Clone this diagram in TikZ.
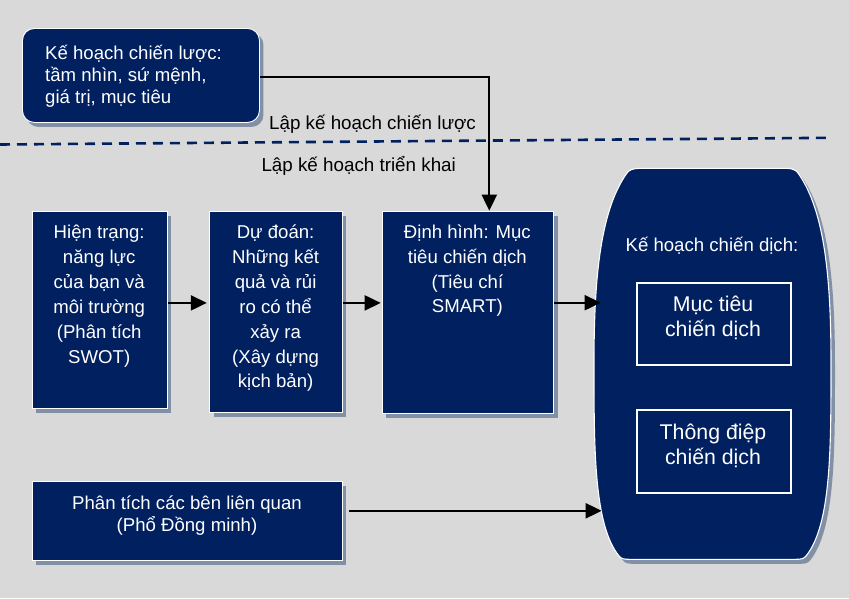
\documentclass[tikz,border=0pt]{standalone}
\usepackage{fontspec}
\setmainfont{Liberation Sans}
\usetikzlibrary{arrows.meta,shadows}
\definecolor{navy}{HTML}{002060}
\definecolor{bggray}{HTML}{D9D9D9}
\definecolor{shade}{HTML}{8290A6}
% invisible prop fixing the height of the first line of a text block
\newcommand\firstrow{\rule{0pt}{20pt}}

\begin{document}
\begin{tikzpicture}[x=1pt,y=-1pt,
  shadowed/.style={drop shadow={shadow xshift=4pt,shadow yshift=-4.5pt,fill=shade,opacity=1}},
  block/.style={draw=white,line width=0.9pt,fill=navy,shadowed,inner sep=0pt,anchor=north west},
  innerbox/.style={draw=white,line width=1.8pt,fill=navy,inner sep=0pt,anchor=north west},
  txt/.style={inner sep=0pt,anchor=north,align=center,text=white,font=\fontsize{18.6pt}{24.9pt}\selectfont},
  bigtxt/.style={inner sep=0pt,anchor=north,align=center,text=white,font=\fontsize{21.3pt}{24.6pt}\selectfont},
  lbl/.style={inner sep=0pt,anchor=base,font=\fontsize{18.8pt}{22pt}\selectfont},
  arr/.style={line width=2pt,-{Triangle[length=16pt,width=15pt]}}]

% canvas
\useasboundingbox (0,0) rectangle (849,598);
\fill[bggray] (0,0) rectangle (849,598);

% boundary between strategic and operational planning
\coordinate (dl) at (0,144.5);
\coordinate (dr) at (832,137.8);
\draw[navy,line width=2.6pt,dash pattern=on 10pt off 7pt] (dl) -- (dr);
\node[lbl] (lstrat) at (372.5,129.3) {Lập kế hoạch chiến lược};
\node[lbl] (lops) at (358.7,171.7) {Lập kế hoạch triển khai};

% strategic plan
\node[block,rounded corners=12pt,minimum width=237pt,minimum height=94pt] (tb) at (22,28) {};
\node[inner sep=0pt,anchor=north west,align=left,text=white,
      font=\fontsize{18.6pt}{22pt}\selectfont] (tbt) at (45,39)
  {\firstrow Kế hoạch chiến lược:\\tầm nhìn, sứ mệnh,\\giá trị, mục tiêu};

% analysis chain
\node[block,minimum width=135pt,minimum height=197.6pt] (b1) at (31.7,210.7) {};
\node[txt] (b1t) at (99.2,218.3)
  {\firstrow Hiện trạng:\\năng lực\\của bạn và\\môi trường\\(Phân tích\\SWOT)};

\node[block,minimum width=132.4pt,minimum height=201.6pt] (b2) at (209.3,210.7) {};
\node[txt] (b2t) at (275.6,218.3)
  {\firstrow Dự đoán:\\Những kết\\quả và rủi\\ro có thể\\xảy ra\\(Xây dựng\\kịch bản)};

\node[block,minimum width=171.6pt,minimum height=202.6pt] (b3) at (381.7,210.7) {};
\node[txt] (b3t) at (467.4,218)
  {\firstrow Định hình: Mục\\tiêu chiến dịch\\(Tiêu chí\\SMART)};

% stakeholder analysis
\node[block,minimum width=310pt,minimum height=79.3pt] (b4) at (31.7,480.7) {};
\node[txt,font=\fontsize{18.6pt}{22.4pt}\selectfont] (b4t) at (187,489.3)
  {\firstrow Phân tích các bên liên quan\\(Phổ Đồng minh)};

% campaign plan container
\path[fill=navy,draw=white,line width=1.1pt,shadowed]
  (640,168.3) -- (786,168.3)
  .. controls (792,168.3) and (796,170) .. (798,173)
  .. controls (826,212) and (831,285) .. (831,364)
  .. controls (831,450) and (831,525) .. (806,556)
  .. controls (804,559) and (800,559.3) .. (796,559.3)
  -- (629,559.3)
  .. controls (625,559.3) and (621,559) .. (619,556)
  .. controls (594,525) and (594,450) .. (594,364)
  .. controls (594,285) and (599,212) .. (627,173)
  .. controls (629,170) and (633,168.3) .. (640,168.3) -- cycle;
\node[lbl,text=white,font=\fontsize{18.6pt}{22pt}\selectfont] (kt) at (712,251) {Kế hoạch chiến dịch:};

\node[innerbox,minimum width=154pt,minimum height=82.6pt] (m1) at (636,281.7) {};
\node[bigtxt] (m1t) at (713,291.7) {\firstrow Mục tiêu\\chiến dịch};
\node[innerbox,minimum width=154pt,minimum height=82.7pt] (m2) at (636,409) {};
\node[bigtxt] (m2t) at (713,419.3) {\firstrow Thông điệp\\chiến dịch};

% connectors
\coordinate (bend) at (489.3,77.3);
\coordinate (row) at (0,302.9);
\coordinate (in1) at (600.7,302.7);
\coordinate (in2) at (601.7,510.8);
\draw[arr] (tb.east |- bend) -- (bend) -- (bend |- b3.north);
\draw[arr,shorten >=2.5pt] (b1.east |- row) -- (b2.west |- row);
\draw[arr,shorten >=1pt] (b2.east |- row) -- (b3.west |- row);
\draw[arr] (b3.east |- in1) -- (in1);
\draw[arr,shorten <=6.5pt] (b4.east |- in2) -- (in2);
\end{tikzpicture}
\end{document}
